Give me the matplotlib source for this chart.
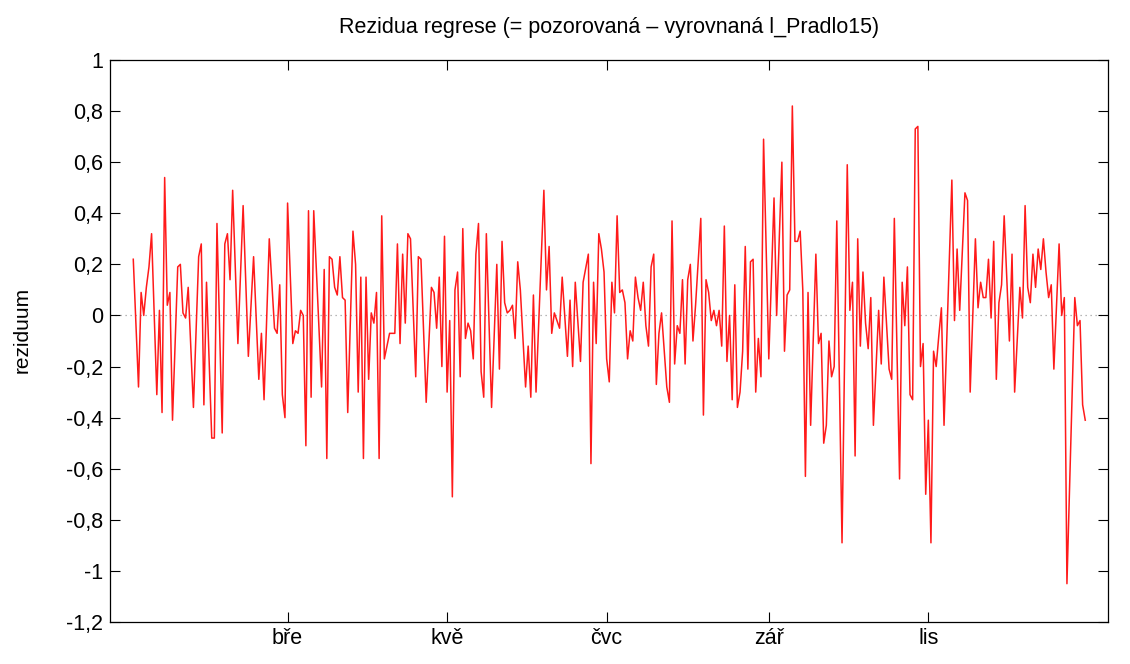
import numpy as np
import pandas as pd
import matplotlib
matplotlib.use("Agg")
import matplotlib.pyplot as plt

plt.rcParams['font.family'] = ['Liberation Sans', 'DejaVu Sans']

# den v roce 2015 (0 = 1. ledna) a reziduum
den = [0, 2, 3, 4, 5, 6, 7, 9, 10, 11, 12, 13, 14, 15, 17, 18, 19, 20, 21, 23,
       25, 26, 27, 28, 30, 31, 32, 34, 35, 36, 37, 38, 40, 42, 44, 46, 48, 49, 50, 52,
       54, 55, 56, 57, 58, 59, 61, 62, 63, 64, 65, 66, 67, 68, 69, 72, 73, 74, 75, 76,
       77, 78, 79, 80, 81, 82, 84, 85, 86, 87, 88, 89, 90, 91, 92, 93, 94, 95, 96, 98,
       100, 101, 102, 103, 104, 105, 106, 108, 109, 110, 112, 114, 115, 116, 117, 118, 119, 120, 121, 122,
       123, 124, 125, 126, 127, 128, 129, 130, 131, 132, 133, 134, 135, 137, 139, 140, 141, 142, 143, 144,
       145, 146, 147, 148, 150, 151, 152, 153, 154, 157, 158, 159, 160, 161, 162, 163, 164, 166, 167, 168,
       169, 171, 172, 174, 175, 176, 177, 178, 179, 180, 181, 182, 183, 184, 185, 186, 187, 188, 189, 190,
       191, 192, 193, 194, 195, 196, 197, 198, 199, 200, 201, 202, 204, 205, 206, 207, 208, 209, 210, 211,
       212, 213, 214, 215, 217, 218, 219, 220, 221, 222, 223, 224, 225, 226, 227, 228, 229, 230, 231, 232,
       233, 234, 235, 236, 237, 238, 239, 240, 241, 243, 245, 246, 248, 249, 250, 251, 252, 253, 254, 255,
       256, 257, 258, 259, 261, 262, 263, 264, 265, 266, 267, 268, 269, 271, 273, 274, 275, 276, 277, 278,
       279, 280, 281, 282, 283, 285, 286, 287, 289, 290, 291, 293, 294, 295, 296, 297, 298, 299, 300, 301,
       302, 303, 304, 305, 306, 307, 308, 309, 310, 313, 314, 315, 316, 318, 319, 320, 322, 323, 324, 325,
       326, 327, 328, 329, 330, 331, 332, 333, 335, 336, 337, 339, 340, 341, 342, 343, 344, 345, 346, 347,
       348, 349, 350, 351, 352, 354, 355, 356, 357, 358, 360, 361, 362, 363, 364]

rezidua = [0.22, -0.28, 0.09, 0.00, 0.11, 0.19, 0.32, -0.31, 0.02, -0.38, 0.54, 0.04, 0.09, -0.41, 0.19, 0.20, 0.01, -0.01, 0.11, -0.36,
           0.23, 0.28, -0.35, 0.13, -0.48, -0.48, 0.36, -0.46, 0.28, 0.32, 0.14, 0.49, -0.11, 0.43, -0.16, 0.23, -0.25, -0.07, -0.33, 0.30,
           -0.05, -0.07, 0.12, -0.31, -0.40, 0.44, -0.11, -0.06, -0.07, 0.02, 0.00, -0.51, 0.41, -0.32, 0.41, -0.28, 0.18, -0.56, 0.23, 0.22,
           0.11, 0.08, 0.23, 0.07, 0.06, -0.38, 0.33, 0.20, -0.30, 0.15, -0.56, 0.15, -0.25, 0.01, -0.03, 0.09, -0.56, 0.39, -0.17, -0.07,
           -0.07, 0.28, -0.11, 0.24, -0.03, 0.32, 0.30, -0.24, 0.23, 0.22, -0.34, 0.11, 0.09, -0.05, 0.15, -0.20, 0.31, -0.30, -0.02, -0.71,
           0.10, 0.17, -0.24, 0.34, -0.09, -0.03, -0.06, -0.17, 0.24, 0.36, -0.22, -0.32, 0.32, -0.36, 0.20, -0.21, 0.29, 0.05, 0.01, 0.02,
           0.04, -0.09, 0.21, 0.10, -0.28, -0.12, -0.32, 0.08, -0.30, 0.49, 0.10, 0.27, -0.07, 0.01, -0.02, -0.05, 0.15, -0.16, 0.06, -0.20,
           0.13, -0.18, 0.13, 0.24, -0.58, 0.13, -0.11, 0.32, 0.26, 0.17, -0.17, -0.26, 0.13, 0.01, 0.39, 0.09, 0.10, 0.05, -0.17, -0.06,
           -0.10, 0.15, 0.07, 0.02, 0.13, -0.04, -0.12, 0.19, 0.24, -0.27, -0.07, 0.01, -0.28, -0.34, 0.37, -0.19, -0.04, -0.07, 0.14, -0.19,
           0.14, 0.20, -0.10, 0.04, 0.38, -0.39, 0.14, 0.09, -0.02, 0.02, -0.04, 0.02, -0.12, 0.35, -0.18, 0.00, -0.33, 0.12, -0.36, -0.30,
           -0.14, 0.27, -0.21, 0.21, 0.22, -0.30, -0.09, -0.24, 0.69, -0.17, 0.46, 0.00, 0.60, -0.14, 0.08, 0.10, 0.82, 0.29, 0.29, 0.33,
           0.10, -0.63, 0.09, -0.43, 0.24, -0.11, -0.07, -0.50, -0.43, -0.10, -0.24, -0.20, 0.37, -0.89, 0.59, 0.02, 0.13, -0.55, 0.30, -0.12,
           0.17, -0.03, -0.13, 0.07, -0.43, 0.02, -0.19, 0.15, -0.21, -0.25, 0.38, -0.64, 0.13, -0.04, 0.19, -0.31, -0.33, 0.73, 0.74, -0.20,
           -0.11, -0.70, -0.41, -0.89, -0.14, -0.20, -0.08, 0.03, -0.43, 0.53, -0.02, 0.26, 0.02, 0.48, 0.45, -0.30, 0.30, 0.03, 0.13, 0.07,
           0.07, 0.22, -0.01, 0.29, -0.25, 0.05, 0.12, 0.39, -0.10, 0.24, -0.30, 0.11, -0.01, 0.43, 0.11, 0.05, 0.24, 0.11, 0.26, 0.18,
           0.30, 0.17, 0.07, 0.12, -0.21, 0.28, 0.00, 0.07, -1.05, -0.68, 0.07, -0.04, -0.02, -0.35, -0.41]

mesice = [3, 5, 7, 9, 11]
popisky_mesicu = ["bře", "kvě", "čvc", "zář", "lis"]
y_ticks = [-1.2, -1.0, -0.8, -0.6, -0.4, -0.2, 0.0, 0.2, 0.4, 0.6, 0.8, 1.0]

start = pd.Timestamp("2015-01-01")
x_ticks = [(pd.Timestamp(2015, m, 1) - start).days for m in mesice]

W, H = 1130, 664
fig = plt.figure(figsize=(W / 100, H / 100), dpi=100)
ax = fig.add_axes([110 / W, 1 - 622 / H, (1108 - 110) / W, (622 - 60) / H])

ax.axhline(0, color="#a0a0a0", lw=0.9, ls=(0, (1, 3)), zorder=1)
ax.plot(den, rezidua, color="#ff1a1a", lw=1.1, zorder=2)

ax.set_xlim(-8.9, 372.7)
ax.set_ylim(-1.2, 1.0)

def fmt(v):
    s = ("%.1f" % v).rstrip("0").rstrip(".")
    if s in ("-0", ""):
        s = "0"
    return s.replace(".", ",")

ax.set_yticks(y_ticks)
ax.set_yticklabels([fmt(v) for v in y_ticks])
ax.set_xticks(x_ticks)
ax.set_xticklabels(popisky_mesicu)
ax.tick_params(direction="in", length=7, width=0.8, labelsize=15.5,
               top=True, right=True)
ax.tick_params(axis="y", pad=5)
ax.tick_params(axis="x", pad=4)

for s in ax.spines.values():
    s.set_linewidth(0.9)

fig.text(609 / W, 1 - 27 / H, "Rezidua regrese (= pozorovaná – vyrovnaná l_Pradlo15)",
         fontsize=15.5, ha="center", va="center")
fig.text(22 / W, 1 - 330 / H, "reziduum", fontsize=15, rotation=90,
         ha="center", va="center")

fig.savefig("out.png", dpi=100)
